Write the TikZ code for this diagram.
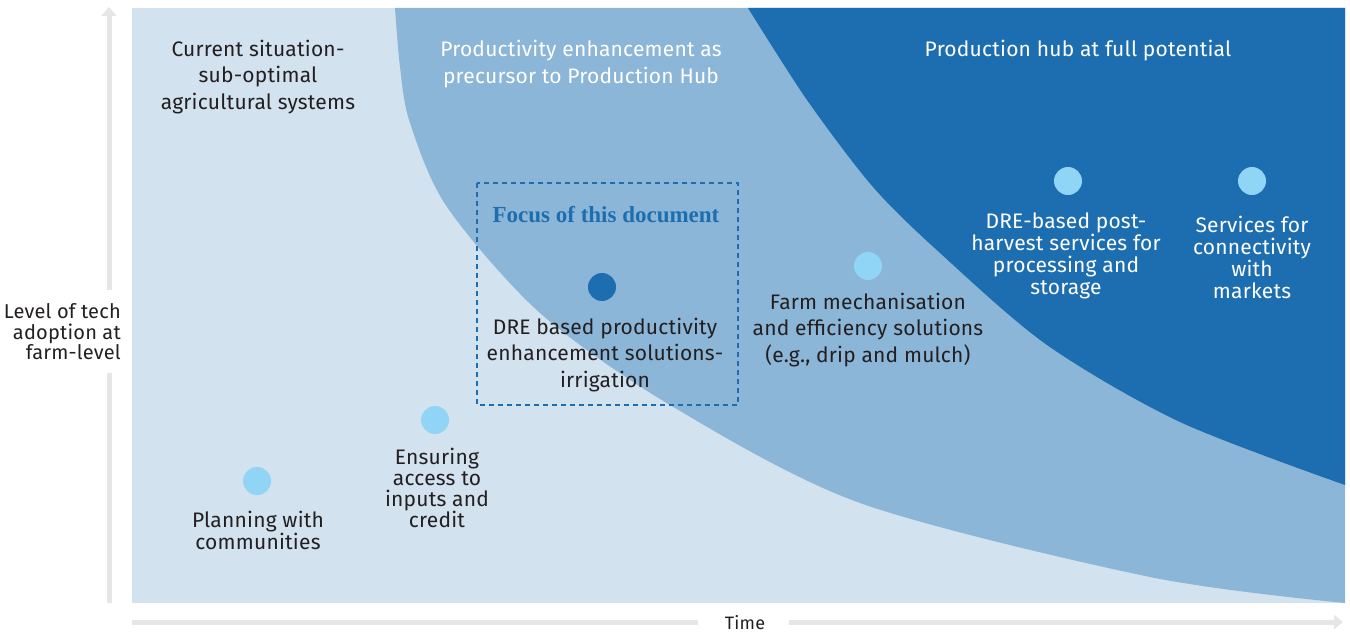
\documentclass[tikz,border=0pt]{standalone}
\usepackage{fontspec}
\setmainfont{Fira Sans}[LetterSpace=1]
\newfontfamily\focusfont{Liberation Serif}
\usetikzlibrary{arrows.meta}
\definecolor{paleblue}{HTML}{D2E2EF}
\definecolor{midblue}{HTML}{8CB6D7}
\definecolor{deepblue}{HTML}{1D6EB0}
\definecolor{dotblue}{HTML}{90D5F5}
\definecolor{axisgray}{HTML}{E6E6E6}
\definecolor{textdark}{HTML}{231F20}
\begin{document}
\begin{tikzpicture}[x=1pt, y=-1pt,
    every node/.style={align=center, inner sep=0pt, text=textdark, font=\fontsize{21}{26.5}\selectfont},
    dot/.style={circle, fill=dotblue, minimum size=28pt},
    tight/.style={font=\fontsize{21}{22}\selectfont},
    axis/.style={draw=axisgray, line width=5pt}]
    \useasboundingbox (0,0) rectangle (1350,634);
    % Background stages
    \fill[paleblue] (132,8) rectangle (1345,603);
    \fill[midblue] plot[smooth] coordinates {(395,8) (400,67) (410,123) (447,207) (540,313) (670,405) (860,503) (1150,577) (1345,603)} -- (1345,8) -- cycle;
    \fill[deepblue] plot[smooth] coordinates {(748,8) (807,100) (873,187) (940,253) (1047,345) (1180,422) (1345,485)} -- (1345,8) -- cycle;

    % Stage headings
    \node (S1) at (258,77) {Current situation-\\sub-optimal\\agricultural systems};
    \node[text=white] (S2) at (581,64) {Productivity enhancement as\\precursor to Production Hub};
    \node[text=white] (S3) at (1078,51) {Production hub at full potential};

    % Focus box
    \draw[deepblue, line width=1.2pt, dash pattern=on 5pt off 4pt] (477,183) rectangle (738,405);
    \node[text=deepblue, font=\focusfont\bfseries\fontsize{23}{26}\selectfont] (F) at (606,215) {Focus of this document};

    % Interventions
    \node[dot] (P1) at (257,481) {};
    \node[dot] (P2) at (435,420) {};
    \node[dot, fill=deepblue] (P3) at (602,287) {};
    \node[dot] (P4) at (868,266) {};
    \node[dot] (P5) at (1068,181) {};
    \node[dot] (P6) at (1252,181) {};
    \node[tight] (T1) at (258,530) {Planning with\\communities};
    \node[tight, font=\fontsize{21}{21}\selectfont] (T2) at (437,488) {Ensuring\\access to\\inputs and\\credit};
    \node (T3) at (605,355) {DRE based productivity\\enhancement solutions-\\irrigation};
    \node (T4) at (868,330) {Farm mechanisation\\and efficiency solutions\\(e.g., drip and mulch)};
    \node[tight, text=white] (T5) at (1066,256) {DRE-based post-\\harvest services for\\processing and\\storage};
    \node[tight, text=white] (T6) at (1252,257) {Services for\\connectivity\\with\\markets};

    % Axes
    \node[align=right, anchor=east, font=\fontsize{20}{20.5}\selectfont] (L) at (121,332) {Level of tech\\adoption at\\farm-level};
    \node[font=\fontsize{18}{20}\selectfont] (X) at (745,623) {Time};
    \coordinate (Y0) at (109,603);
    \coordinate (Y1) at (109,373);
    \coordinate (Y2) at (109,290);
    \coordinate (Y3) at (109,7);
    \coordinate (X0) at (132,622);
    \coordinate (X1) at (698,622);
    \coordinate (X2) at (789,622);
    \coordinate (X3) at (1343,622);
    \draw[axis] (Y0) -- (Y1);
    \draw[axis, -{Triangle[length=9pt, width=15pt]}] (Y2) -- (Y3);
    \draw[axis] (X0) -- (X1);
    \draw[axis, -{Triangle[length=9pt, width=14pt]}] (X2) -- (X3);
\end{tikzpicture}
\end{document}
